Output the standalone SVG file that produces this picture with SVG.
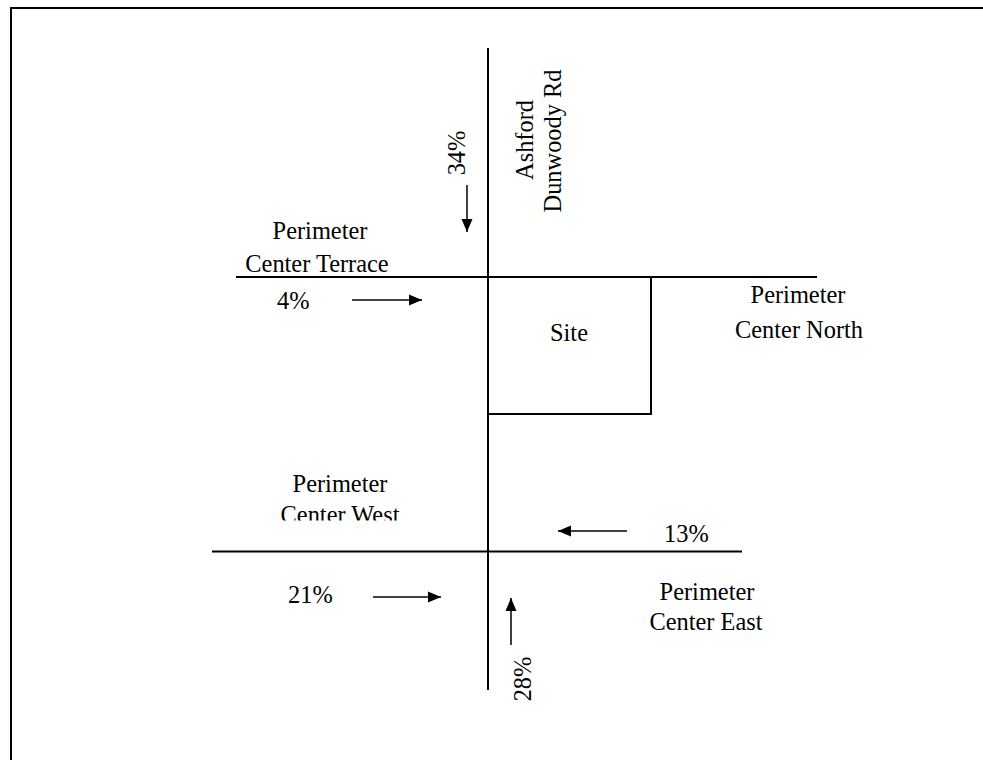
<svg xmlns="http://www.w3.org/2000/svg" width="983" height="760" viewBox="0 0 983 760">
<style>
  .road{stroke:#000;stroke-width:2;fill:none}
  .arr{stroke:#000;stroke-width:1.5;fill:none;marker-end:url(#ah)}
  text{font-family:"Liberation Serif","Times New Roman",serif;font-size:24.4px;fill:#000}
  .c{text-anchor:middle}
</style>
<defs>
  <marker id="ah" markerUnits="userSpaceOnUse" markerWidth="14" markerHeight="12" refX="13" refY="5.5" orient="auto" viewBox="0 0 14 11">
    <path d="M0,0 L13,5.5 L0,11 z" fill="#000"/>
  </marker>
  <clipPath id="cw"><rect x="200" y="460" width="300" height="60.5"/></clipPath>
</defs>
<rect width="983" height="760" fill="#fff"/>
<g id="frame"><path d="M11,760 V8 H983" stroke="#000" stroke-width="2" fill="none"/></g>
<g id="roads">
  <line class="road" x1="488" y1="48" x2="488" y2="690"/>
  <line class="road" x1="236" y1="277" x2="817" y2="277"/>
  <line class="road" x1="212" y1="551.5" x2="742" y2="551.5"/>
</g>
<g id="site">
  <rect class="road" x="488" y="277" width="163" height="137"/>
  <text class="c" x="569" y="341">Site</text>
</g>
<g id="label-ashford">
  <text class="c" transform="translate(533,140) rotate(-90)">Ashford</text>
  <text class="c" transform="translate(561,141) rotate(-90)">Dunwoody Rd</text>
</g>
<g id="label-terrace">
  <text class="c" x="320" y="239">Perimeter</text>
  <text class="c" x="317" y="272">Center Terrace</text>
</g>
<g id="label-north">
  <text class="c" x="798" y="303">Perimeter</text>
  <text class="c" x="799" y="338">Center North</text>
</g>
<g id="label-west" clip-path="url(#cw)">
  <text class="c" x="340" y="492">Perimeter</text>
  <text class="c" x="340" y="523">Center West</text>
</g>
<g id="label-east">
  <text class="c" x="707" y="600">Perimeter</text>
  <text class="c" x="706" y="630">Center East</text>
</g>
<g id="pct-34"><text class="c" transform="translate(465,153) rotate(-90)">34%</text></g>
<g id="pct-4"><text x="277" y="309">4%</text></g>
<g id="pct-13"><text x="664" y="542">13%</text></g>
<g id="pct-21"><text x="288" y="603">21%</text></g>
<g id="pct-28"><text class="c" transform="translate(531,679) rotate(-90)">28%</text></g>
<g id="connectors">
  <line class="arr" x1="467" y1="185" x2="467" y2="232"/>
  <line class="arr" x1="352" y1="300" x2="422" y2="300"/>
  <line class="arr" x1="627" y1="531" x2="558" y2="531"/>
  <line class="arr" x1="373" y1="597" x2="441" y2="597"/>
  <line class="arr" x1="511" y1="645" x2="511" y2="598"/>
</g>
</svg>
